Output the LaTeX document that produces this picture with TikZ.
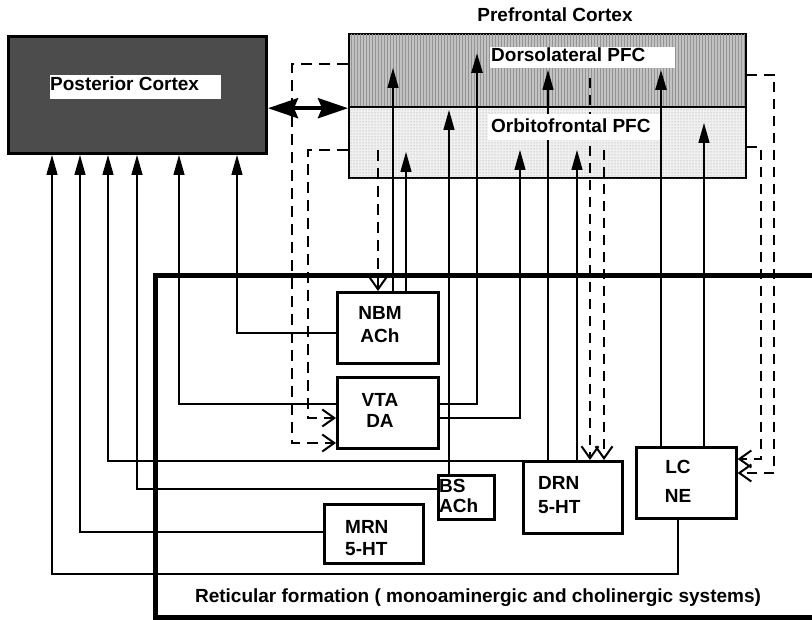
\documentclass[tikz,border=0pt]{standalone}
\usepackage{fontspec}
\setmainfont{Liberation Sans}
\usetikzlibrary{arrows.meta,patterns}
\begin{document}
\begin{tikzpicture}[x=1pt,y=-1pt,
  txt/.style={font=\bfseries\fontsize{19}{#1}\selectfont,inner sep=0pt,anchor=base},
  txt/.default=22,
  rbox/.style={draw,line width=2.6pt,fill=white,anchor=north west,inner sep=0pt},
  lab/.style={fill=white,anchor=north west,inner sep=0pt},
  conn/.style={line width=1.4pt},
  thk/.style={line width=2.7pt},
  tip/.style={-{Triangle[length=20pt,width=11pt]}},
  dshL/.style={line width=2pt,dash pattern=on 11pt off 7pt},
  dshR/.style={line width=1.4pt,dash pattern=on 10pt off 7pt},
  barb/.style={-{Straight Barb[length=12pt,width=17pt,line width=2pt]}},
]
\useasboundingbox (0,0) rectangle (812,620);
\clip (0,0) rectangle (812,620);
\fill[white] (0,0) rectangle (812,620);

% cortex boxes
\node[draw,line width=3pt,fill=black!70,anchor=north west,inner sep=0pt,minimum width=258pt,minimum height=117pt] (post) at (7,35) {};
\node[txt] (pfctitle) at (555,22) {Prefrontal Cortex};
\node[draw,line width=2.2pt,fill=black!24,postaction={pattern=vertical lines,pattern color=black!42},anchor=north west,inner sep=0pt,minimum width=397pt,minimum height=73pt] (dlpfc) at (348,33) {};
\node[draw,line width=2.2pt,fill=black!6,postaction={pattern=dots,pattern color=black!40},anchor=north west,inner sep=0pt,minimum width=397pt,minimum height=71pt] (ofc) at (348,106) {};

% reticular formation frame
\node[draw,line width=5pt,anchor=north west,inner sep=0pt,minimum width=720pt,minimum height=342pt] (ret) at (153,273) {};
\node[txt] (rettxt) at (478,602) {Reticular formation ( monoaminergic and cholinergic systems)};

% nuclei
\node[rbox,minimum width=101pt,minimum height=71pt] (nbm) at (336,291) {};
\node[rbox,minimum width=101pt,minimum height=71pt] (vta) at (336,376) {};
\node[rbox,minimum width=56pt,minimum height=44pt] (bs) at (437,474) {};
\node[rbox,minimum width=99pt,minimum height=72pt] (drn) at (522,460) {};
\node[rbox,minimum width=100pt,minimum height=71pt] (lc) at (635,446) {};
\node[rbox,minimum width=99pt,minimum height=59pt] (mrn) at (323,503) {};

\node[txt=23,align=center] (nbmtxt) at (380,343) {NBM\\ACh};
\node[txt=21,align=center] (vtatxt) at (380,428) {VTA\\DA};
\node[txt=20,align=left,anchor=base west] (bstxt) at (439,512) {BS\\ACh};
\node[txt=24,align=left,anchor=base west] (drntxt) at (538,513) {DRN\\5-HT};
\node[txt=29,align=center] (lctxt) at (678,503) {LC\\NE};
\node[txt=22,align=left,anchor=base west] (mrntxt) at (345,555) {MRN\\5-HT};

% free ends inside the PFC
\coordinate (a1) at (393,68);
\coordinate (a2) at (406,152);
\coordinate (a3) at (449,110);
\coordinate (a4) at (477,53);
\coordinate (a5) at (520,150);
\coordinate (a6) at (548,70);
\coordinate (a7) at (577,150);
\coordinate (a8) at (661,70);
\coordinate (a9) at (704,123);
\coordinate (s1) at (378,150);
\coordinate (s2) at (590,78);
\coordinate (s3) at (604,150);

% projections to posterior cortex
\draw[conn,tip] (nbm.west |- 0,333) -| (post.south -| 237,0);
\draw[conn,tip] (vta.west |- 0,404) -| (post.south -| 179,0);
\draw[conn,tip] (bs.west |- 0,489) -| (post.south -| 137,0);
\draw[conn,tip] (drn.west |- 0,461) -| (post.south -| 108,0);
\draw[conn,tip] (mrn.west |- 0,532) -| (post.south -| 80,0);
\draw[conn,tip] (lc.south -| 678,0) |- (52,574) -- (post.south -| 52,0);

% projections to prefrontal cortex
\draw[conn,tip] (nbm.north -| 393,0) -- (a1);
\draw[conn,tip] (nbm.north -| 406,0) -- (a2);
\draw[conn,tip] (bs.north -| 449,0) -- (a3);
\draw[thk,tip] (vta.east |- 0,404) -| (a4);
\draw[conn,tip] (vta.east |- 0,418) -| (a5);
\draw[conn,tip] (drn.north -| 548,0) -- (a6);
\draw[conn,tip] (drn.north -| 577,0) -- (a7);
\draw[thk,tip] (lc.north -| 661,0) -- (a8);
\draw[conn,tip] (lc.north -| 704,0) -- (a9);

% descending (dashed) projections
\draw[dshL,barb] (dlpfc.west |- 0,64) -| (292,443) -- (vta.west |- 0,443);
\draw[dshL,barb] (ofc.west |- 0,150) -| (308,418) -- (vta.west |- 0,418);
\draw[dshL,barb] (s1) -- (nbm.north -| 378,0);
\draw[dshR,barb] (s2) -- (drn.north -| 590,0);
\draw[dshR,barb] (s3) -- (drn.north -| 604,0);
\draw[dshR,barb] (dlpfc.east |- 0,75) -| (774,473) -- (lc.east |- 0,473);
\draw[dshR,barb] (ofc.east |- 0,147) -| (761,459) -- (lc.east |- 0,459);

% labels
\node[lab,minimum width=171pt,minimum height=24pt] (postlab) at (50,75) {};
\node[txt,anchor=base west] (posttxt) at (50,91) {Posterior Cortex};
\node[lab,minimum width=185pt,minimum height=21pt] (dllab) at (490,47) {};
\node[txt,anchor=base west] (dltxt) at (491,62) {Dorsolateral PFC};
\node[lab,minimum width=172pt,minimum height=26pt] (oflab) at (488,114) {};
\node[txt,anchor=base west] (oftxt) at (491,133) {Orbitofrontal PFC};

% cortico-cortical link
\draw[line width=4pt,{Stealth[length=30pt,width=20pt,inset=4pt]}-{Stealth[length=30pt,width=20pt,inset=4pt]}] (post.east |- dlpfc.south west) -- (dlpfc.south west);
\end{tikzpicture}
\end{document}
